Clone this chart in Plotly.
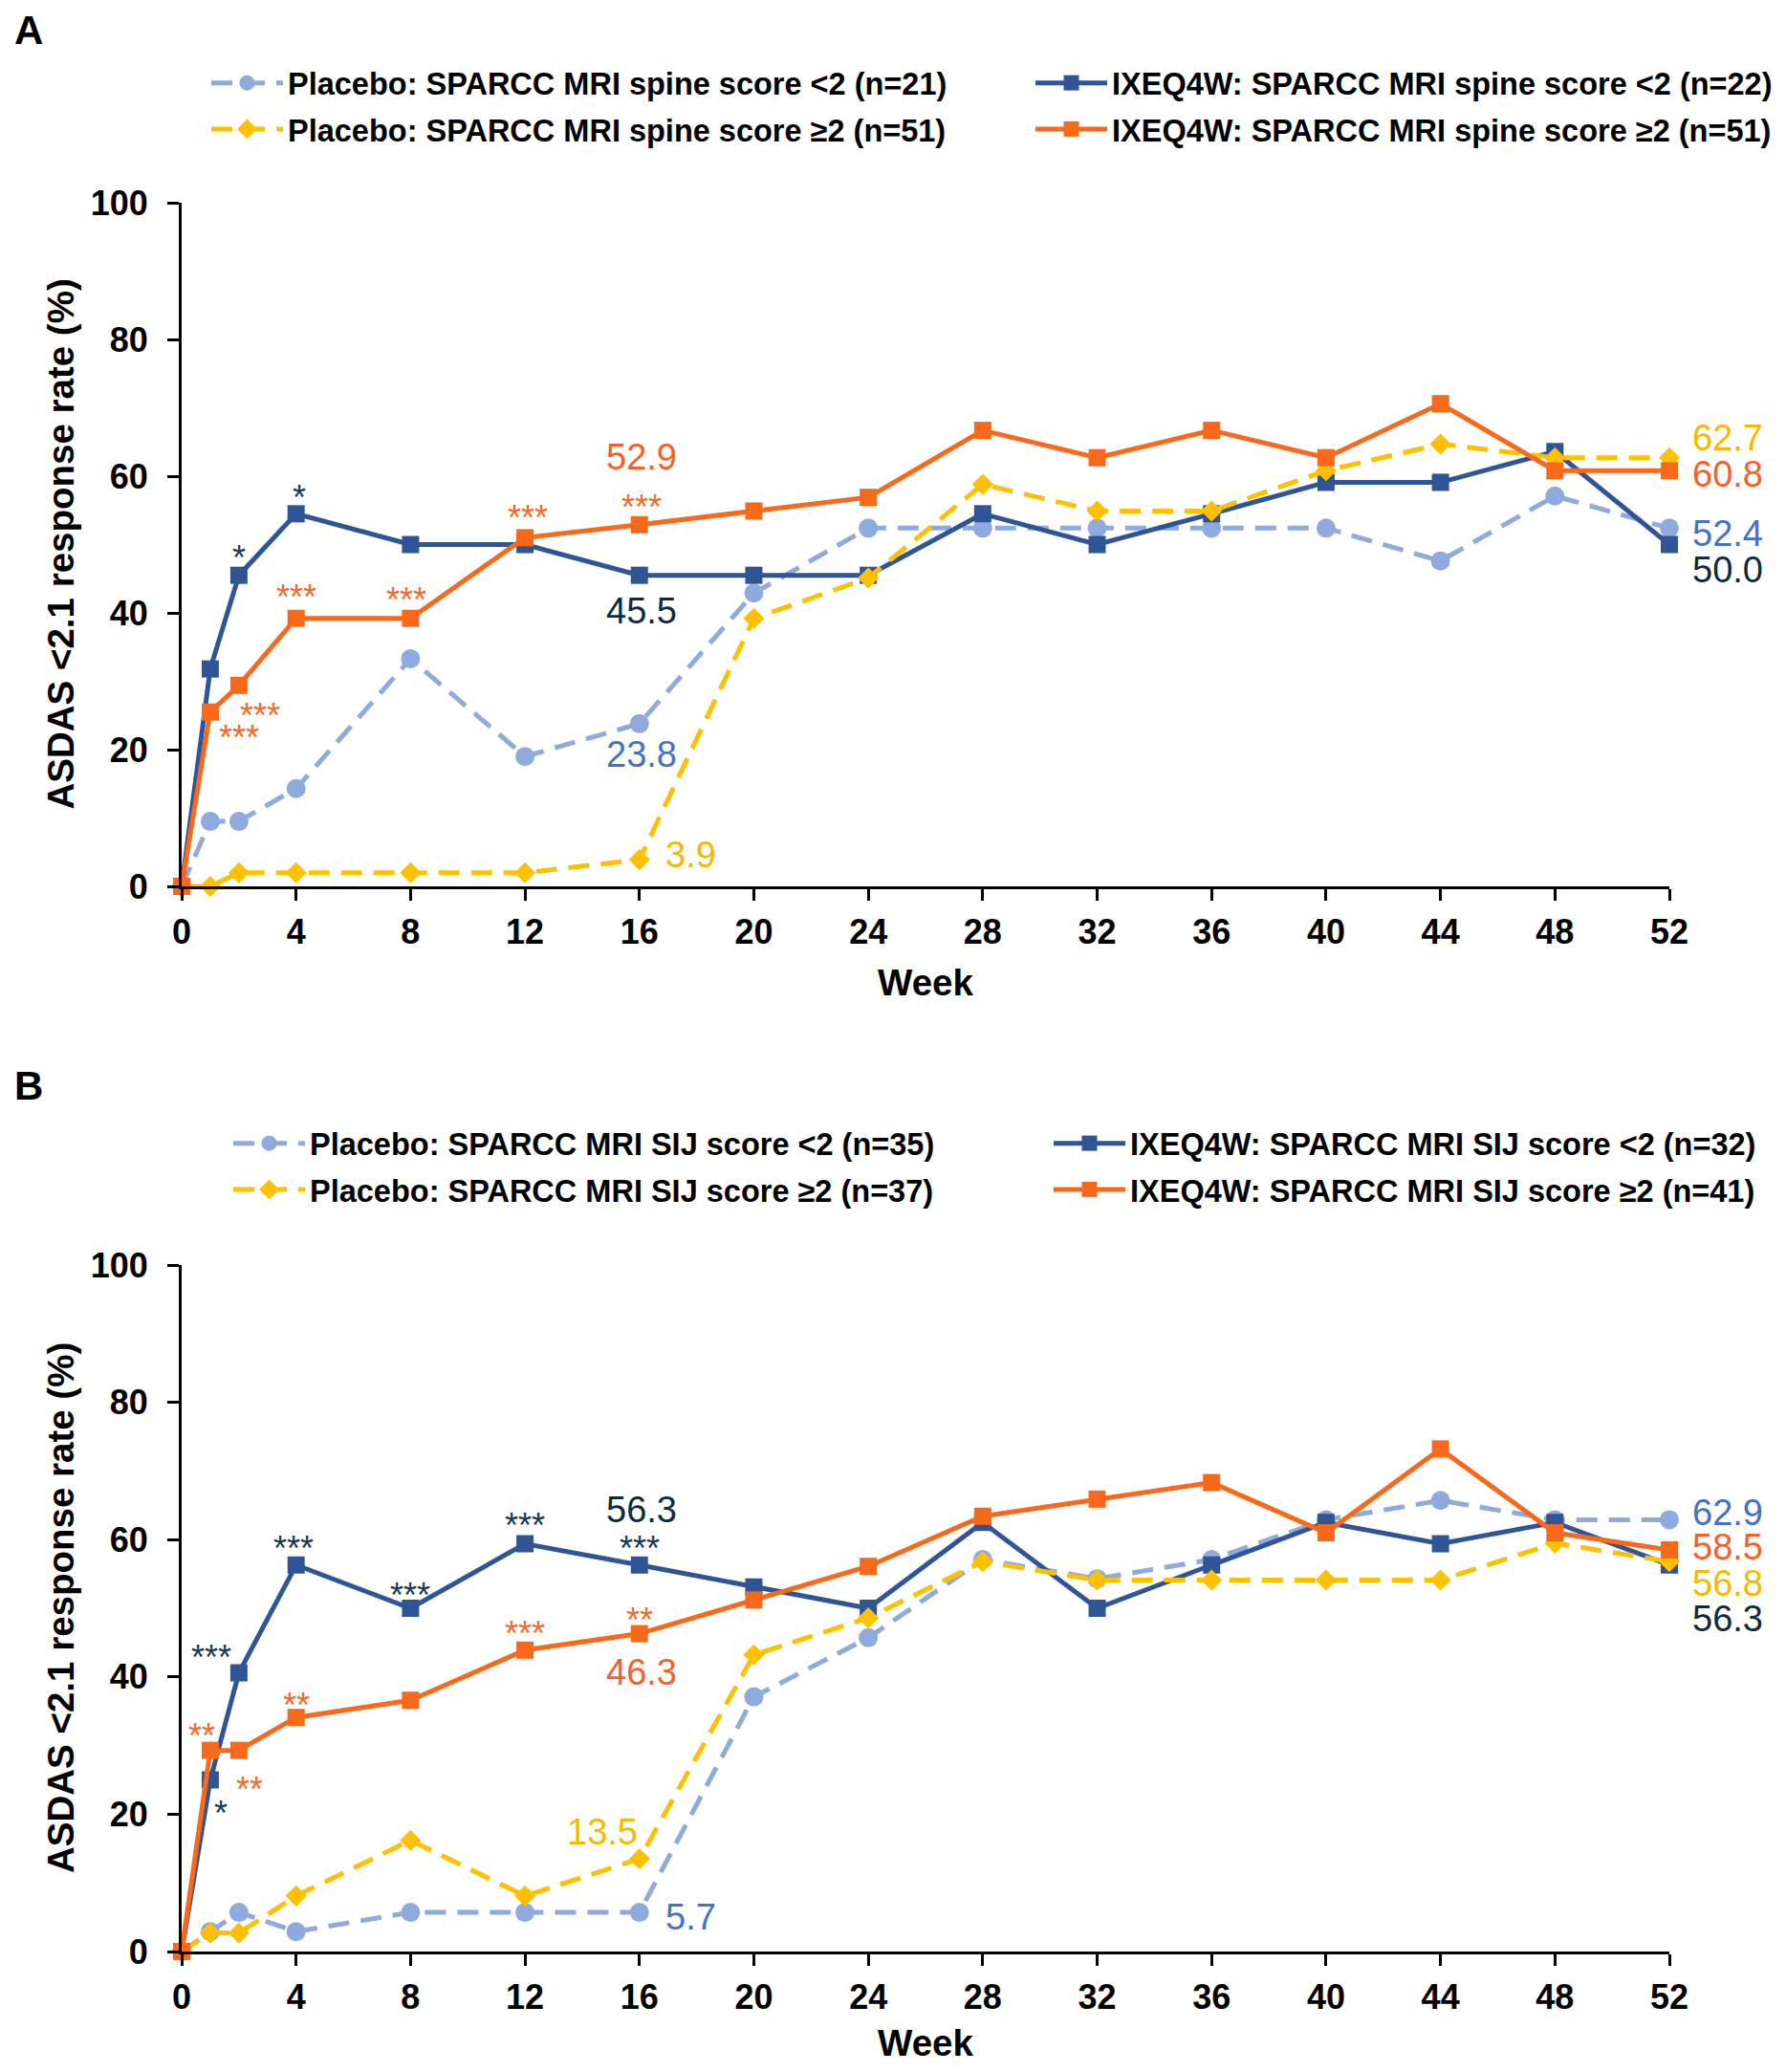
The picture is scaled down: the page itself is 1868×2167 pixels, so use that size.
import plotly.graph_objects as go

# ---------------- data ----------------
weeks = [0, 1, 2, 4, 8, 12, 16, 20, 24, 28, 32, 36, 40, 44, 48, 52]
x_ticks = [0, 4, 8, 12, 16, 20, 24, 28, 32, 36, 40, 44, 48, 52]
y_ticks = [0, 20, 40, 60, 80, 100]

# Panel A: SPARCC MRI spine
A_pbo_lt2 = [0, 9.5, 9.5, 14.3, 33.3, 19.0, 23.8, 42.9, 52.4, 52.4, 52.4, 52.4, 52.4, 47.6, 57.1, 52.4]
A_pbo_ge2 = [0, 0, 2.0, 2.0, 2.0, 2.0, 3.9, 39.2, 45.1, 58.8, 54.9, 54.9, 60.8, 64.7, 62.7, 62.7]
A_ixe_lt2 = [0, 31.8, 45.5, 54.5, 50.0, 50.0, 45.5, 45.5, 45.5, 54.5, 50.0, 54.5, 59.1, 59.1, 63.6, 50.0]
A_ixe_ge2 = [0, 25.5, 29.4, 39.2, 39.2, 51.0, 52.9, 54.9, 56.9, 66.7, 62.7, 66.7, 62.7, 70.6, 60.8, 60.8]

# Panel B: SPARCC MRI SIJ
B_pbo_lt2 = [0, 2.9, 5.7, 2.9, 5.7, 5.7, 5.7, 37.1, 45.7, 57.1, 54.3, 57.1, 62.9, 65.7, 62.9, 62.9]
B_pbo_ge2 = [0, 2.7, 2.7, 8.1, 16.2, 8.1, 13.5, 43.2, 48.6, 56.8, 54.1, 54.1, 54.1, 54.1, 59.5, 56.8]
B_ixe_lt2 = [0, 25.0, 40.6, 56.3, 50.0, 59.4, 56.3, 53.1, 50.0, 62.5, 50.0, 56.3, 62.5, 59.4, 62.5, 56.3]
B_ixe_ge2 = [0, 29.3, 29.3, 34.1, 36.6, 43.9, 46.3, 51.2, 56.1, 63.4, 65.9, 68.3, 61.0, 73.2, 61.0, 58.5]

A_names = ["Placebo: SPARCC MRI spine score <2 (n=21)",
           "Placebo: SPARCC MRI spine score ≥2 (n=51)",
           "IXEQ4W: SPARCC MRI spine score <2 (n=22)",
           "IXEQ4W: SPARCC MRI spine score ≥2 (n=51)"]
B_names = ["Placebo: SPARCC MRI SIJ score <2 (n=35)",
           "Placebo: SPARCC MRI SIJ score ≥2 (n=37)",
           "IXEQ4W: SPARCC MRI SIJ score <2 (n=32)",
           "IXEQ4W: SPARCC MRI SIJ score ≥2 (n=41)"]

# significance markers (week -> stars)
A_sig_ixe_lt2 = {2: "*", 4: "*"}
A_sig_ixe_ge2 = {1: "***", 2: "***", 4: "***", 8: "***", 12: "***", 16: "***"}
B_sig_ixe_lt2 = {1: "*", 2: "***", 4: "***", 8: "***", 12: "***", 16: "***"}
B_sig_ixe_ge2 = {1: "**", 2: "**", 4: "**", 12: "***", 16: "**"}

x_title = "Week"
y_title = "ASDAS <2.1 response rate (%)"

# ---------------- styles ----------------
FONT = "Liberation Sans"
C_LB = "#8FAADC"
C_YE = "#FFC000"
C_NV = "#2F5597"
C_OR = "#F8691C"
T_LB = "#4472C4"
T_NV = "#0E2A3B"
T_YE = "#F7B900"
T_OR = "#F4622A"
S_NV = "#163A50"
S_OR = "#F26B2A"
DASH = "22px,12px"

# page body has an 8px margin: figure coords = page coords - OFF
OFF = 8
W, H = 1860, 2150


def fx(px):
    return (px - OFF) / W


def fy(py):
    return 1 - (py - OFF) / H


PX_PER_WEEK = (1746 - 190) / 52
XDOM = [fx(190), fx(1746)]
A_YDOM = [fy(927), fy(212)]
B_YDOM = [fy(2041), fy(1323)]

fig = go.Figure()

styles = {
    "pbo_lt2": dict(color=C_LB, dash=DASH, symbol="circle", size=20),
    "pbo_ge2": dict(color=C_YE, dash=DASH, symbol="diamond", size=17),
    "ixe_lt2": dict(color=C_NV, dash="solid", symbol="square", size=18),
    "ixe_ge2": dict(color=C_OR, dash="solid", symbol="square", size=18),
}


def add(y, name, key, xa, ya, legend, rank):
    st = styles[key]
    fig.add_trace(go.Scatter(
        x=weeks, y=y, name=name, mode="lines+markers",
        line=dict(color=st["color"], width=5, dash=st["dash"]),
        marker=dict(symbol=st["symbol"], size=st["size"], color=st["color"]),
        xaxis=xa, yaxis=ya, legend=legend, legendrank=rank,
        legendgroup=name, cliponaxis=False, showlegend=True,
    ))


# draw order: light blue, navy, yellow, orange
add(A_pbo_lt2, A_names[0], "pbo_lt2", "x", "y", "legend", 1)
add(A_ixe_lt2, A_names[2], "ixe_lt2", "x", "y", "legend2", 1)
add(A_pbo_ge2, A_names[1], "pbo_ge2", "x", "y", "legend", 2)
add(A_ixe_ge2, A_names[3], "ixe_ge2", "x", "y", "legend2", 2)

add(B_pbo_lt2, B_names[0], "pbo_lt2", "x2", "y2", "legend3", 1)
add(B_ixe_lt2, B_names[2], "ixe_lt2", "x2", "y2", "legend4", 1)
add(B_pbo_ge2, B_names[1], "pbo_ge2", "x2", "y2", "legend3", 2)
add(B_ixe_ge2, B_names[3], "ixe_ge2", "x2", "y2", "legend4", 2)

annotations = []


def val_at(series, wk):
    return series[weeks.index(wk)]


def star(series, sig, offsets, color, xr, yr):
    # offsets: week -> (dx in weeks, visual shift px)
    for wk, txt in sig.items():
        dx, dy = offsets.get(wk, (0, 24))
        annotations.append(dict(
            x=wk, y=val_at(series, wk), xref=xr, yref=yr, text=txt,
            showarrow=False, xshift=dx * PX_PER_WEEK, yshift=dy - 8,
            xanchor="center", yanchor="middle",
            font=dict(family=FONT, size=36, color=color)))


def label(series, wk, color, xr, yr, dx=0.0, dy=0, anchor="center"):
    annotations.append(dict(
        x=wk, y=val_at(series, wk), xref=xr, yref=yr,
        text=f"{val_at(series, wk):.1f}", showarrow=False,
        xshift=dx * PX_PER_WEEK, yshift=dy,
        xanchor=anchor, yanchor="middle",
        font=dict(family=FONT, size=38, color=color)))


END_DX = 0.74

# Panel A stars
star(A_ixe_lt2, A_sig_ixe_lt2, {2: (0, 26), 4: (0.1, 25)}, S_NV, "x", "y")
star(A_ixe_ge2, A_sig_ixe_ge2, {1: (1.0, -19), 2: (0.75, -24), 4: (0, 30), 8: (-0.15, 27),
                                 12: (0.1, 29), 16: (0.07, 26)}, S_OR, "x", "y")
# Panel A value labels
label(A_ixe_ge2, 16, T_OR, "x", "y", dx=0.07, dy=71)
label(A_ixe_lt2, 16, T_NV, "x", "y", dx=0.07, dy=-37)
label(A_pbo_lt2, 16, T_LB, "x", "y", dx=0.07, dy=-32)
label(A_pbo_ge2, 16, T_YE, "x", "y", dx=1.8, dy=5)
label(A_pbo_ge2, 52, T_YE, "x", "y", dx=END_DX, dy=21, anchor="left")
label(A_ixe_ge2, 52, T_OR, "x", "y", dx=END_DX, dy=-4, anchor="left")
label(A_pbo_lt2, 52, T_LB, "x", "y", dx=END_DX, dy=-6, anchor="left")
label(A_ixe_lt2, 52, T_NV, "x", "y", dx=END_DX, dy=-26, anchor="left")

# Panel B stars
star(B_ixe_lt2, B_sig_ixe_lt2, {1: (0.37, -27), 2: (-0.96, 24), 4: (-0.1, 25), 8: (0, 22),
                                 12: (0, 27), 16: (0, 25)}, S_NV, "x2", "y2")
star(B_ixe_ge2, B_sig_ixe_ge2, {1: (-0.3, 23), 2: (0.38, -33), 4: (0, 21), 12: (0, 25),
                                 16: (0, 22)}, S_OR, "x2", "y2")
# Panel B value labels
label(B_ixe_lt2, 16, T_NV, "x2", "y2", dx=0.07, dy=58)
label(B_ixe_ge2, 16, T_OR, "x2", "y2", dx=0.07, dy=-40)
label(B_pbo_ge2, 16, T_YE, "x2", "y2", dx=-1.3, dy=28)
label(B_pbo_lt2, 16, T_LB, "x2", "y2", dx=1.8, dy=-5)
label(B_pbo_lt2, 52, T_LB, "x2", "y2", dx=END_DX, dy=7, anchor="left")
label(B_ixe_ge2, 52, T_OR, "x2", "y2", dx=END_DX, dy=3, anchor="left")
label(B_pbo_ge2, 52, T_YE, "x2", "y2", dx=END_DX, dy=-23, anchor="left")
label(B_ixe_lt2, 52, T_NV, "x2", "y2", dx=END_DX, dy=-56, anchor="left")

# panel letters
for letter, yc in (("A", 31), ("B", 1135)):
    annotations.append(dict(
        x=fx(30), y=fy(yc), xref="paper", yref="paper", text=letter,
        showarrow=False, xanchor="center", yanchor="middle",
        font=dict(family=FONT, size=42, color="black", weight="bold")))

tickfont = dict(family=FONT, size=36, color="black", weight="bold")
titlefont = dict(family=FONT, size=38.5, color="black", weight="bold")

# y-axis titles (rotated text centred on each panel's y-axis)
for dom in (A_YDOM, B_YDOM):
    annotations.append(dict(
        x=fx(63), y=(dom[0] + dom[1]) / 2, xref="paper", yref="paper",
        text=y_title, textangle=-90, showarrow=False,
        xanchor="center", yanchor="middle", font=titlefont))

xcommon = dict(range=[0, 52], tickmode="array", tickvals=x_ticks, showline=True,
               linecolor="black", linewidth=3, ticks="outside", ticklen=12, tickwidth=3,
               tickcolor="black", showgrid=False, zeroline=False, tickfont=tickfont,
               ticklabelstandoff=2, domain=XDOM, automargin=False,
               title=dict(text=x_title, font=titlefont, standoff=20))
ycommon = dict(range=[0, 100], tickmode="array", tickvals=y_ticks, showline=True,
               linecolor="black", linewidth=3, ticks="outside", ticklen=12, tickwidth=3,
               tickcolor="black", showgrid=False, zeroline=False, tickfont=tickfont,
               ticklabelstandoff=13, automargin=False)

legfont = dict(family=FONT, size=32.5, color="black", weight="bold")


def leg(xpx, ycpx):
    return dict(x=fx(xpx), y=fy(ycpx), xanchor="left", yanchor="middle",
                font=legfont, bgcolor="rgba(0,0,0,0)", borderwidth=0,
                tracegroupgap=3, orientation="v", itemwidth=75)


fig.update_layout(
    width=W, height=H,
    margin=dict(l=0, r=0, t=0, b=0, autoexpand=False),
    paper_bgcolor="white", plot_bgcolor="white",
    font=dict(family=FONT),
    xaxis=dict(**xcommon, anchor="y"),
    yaxis=dict(**ycommon, domain=A_YDOM, anchor="x"),
    xaxis2=dict(**xcommon, anchor="y2"),
    yaxis2=dict(**ycommon, domain=B_YDOM, anchor="x2"),
    legend=leg(216, 111),
    legend2=leg(1078, 111),
    legend3=leg(239, 1220),
    legend4=leg(1097, 1220),
    annotations=annotations,
    showlegend=True,
)

fig.write_html("out.html")
